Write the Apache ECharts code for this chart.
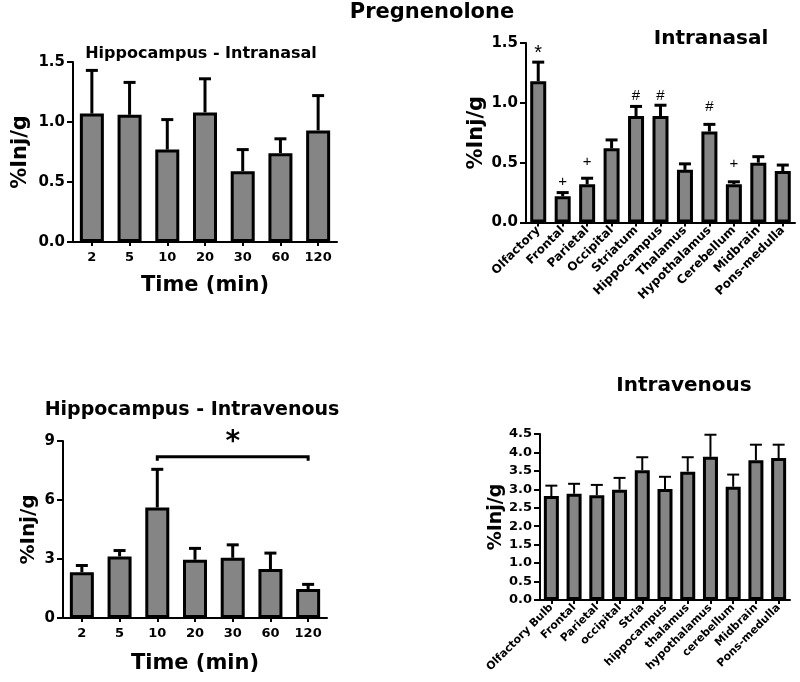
<!DOCTYPE html>
<html>
<head>
<meta charset="utf-8">
<script src="https://cdn.jsdelivr.net/npm/echarts@6/dist/echarts.min.js"></script>
<style>html,body{margin:0;padding:0;background:#fff}#c{width:800px;height:682px}</style>
</head>
<body>
<div id="c"></div>
<script>
// ---- data ----
const mainTitle = 'Pregnenolone';
const timeCats = ['2', '5', '10', '20', '30', '60', '120'];

const inHippoTitle = 'Hippocampus - Intranasal';
const inHippoMean = [1.07, 1.06, 0.77, 1.08, 0.59, 0.74, 0.93];
const inHippoErr  = [1.43, 1.33, 1.02, 1.36, 0.77, 0.86, 1.22];

const inRegionTitle = 'Intranasal';
const inRegionCats = ['Olfactory', 'Frontal', 'Parietal', 'Occipital', 'Striatum', 'Hippocampus', 'Thalamus', 'Hypothalamus', 'Cerebellum', 'Midbrain', 'Pons-medulla'];
const inRegionMean = [1.18, 0.22, 0.32, 0.62, 0.89, 0.89, 0.44, 0.76, 0.32, 0.50, 0.43];
const inRegionErr  = [1.34, 0.25, 0.37, 0.69, 0.97, 0.98, 0.49, 0.82, 0.34, 0.55, 0.48];
const inRegionMarks = ['*', '+', '+', '', '#', '#', '', '#', '+', '', ''];
const inRegionMarkY = [1.41, 0.34, 0.51, null, 1.06, 1.06, null, 0.97, 0.49, null, null];

const ivHippoTitle = 'Hippocampus - Intravenous';
const ivHippoMean = [2.33, 3.13, 5.62, 2.96, 3.06, 2.49, 1.47];
const ivHippoErr  = [2.67, 3.43, 7.56, 3.54, 3.72, 3.30, 1.71];
const ivBracket = { from: 2, to: 6, y: 8.2, tickTo: 8.0, label: '*', labelY: 8.9 };

const ivRegionTitle = 'Intravenous';
const ivRegionCats = ['Olfactory Bulb', 'Frontal', 'Parietal', 'occipital', 'Stria', 'hippocampus', 'thalamus', 'hypothalamus', 'cerebellum', 'Midbrain', 'Pons-medulla'];
const ivRegionMean = [2.82, 2.88, 2.84, 2.99, 3.52, 3.01, 3.48, 3.88, 3.07, 3.79, 3.85];
const ivRegionErr  = [3.10, 3.15, 3.12, 3.31, 3.87, 3.34, 3.87, 4.48, 3.40, 4.21, 4.21];

const yName = '%Inj/g';
const xTimeName = 'Time (min)';

// ---- chart ----
const FONT = 'DejaVu Sans';
const chart = echarts.init(document.getElementById('c'), null, { renderer: 'canvas' });

function errRender(capHalf, lw) {
  return function (params, api) {
    const x = api.value(0), v = api.value(1), e = api.value(2);
    const p0 = api.coord([x, v]);
    const p1 = api.coord([x, e]);
    return {
      type: 'group',
      children: [
        { type: 'line', shape: { x1: p0[0], y1: p0[1], x2: p1[0], y2: p1[1] }, style: { stroke: '#000', lineWidth: lw } },
        { type: 'line', shape: { x1: p1[0] - capHalf, y1: p1[1], x2: p1[0] + capHalf, y2: p1[1] }, style: { stroke: '#000', lineWidth: lw } }
      ]
    };
  };
}
function errData(mean, err) { return mean.map((m, i) => [i, m, err[i]]); }

function yAxisCfg(gi, max, interval, dec, labelSize, nameSize, nameGap) {
  return {
    gridIndex: gi, type: 'value', min: 0, max: max, interval: interval,
    name: yName, nameLocation: 'middle', nameGap: nameGap, nameRotate: 90,
    nameTextStyle: { fontFamily: FONT, fontWeight: 'bold', fontSize: nameSize, color: '#000' },
    axisLine: { show: true, lineStyle: { color: '#000', width: 2 } },
    axisTick: { show: true, length: 6, lineStyle: { color: '#000', width: 2 } },
    axisLabel: { fontFamily: FONT, fontWeight: 'bold', fontSize: labelSize, color: '#000', margin: 8,
      formatter: v => v.toFixed(dec) },
    splitLine: { show: false }
  };
}
function xAxisCfg(gi, cats, opts) {
  return Object.assign({
    gridIndex: gi, type: 'category', data: cats,
    axisLine: { show: true, lineStyle: { color: '#000', width: 2 } },
    axisTick: { show: true, alignWithLabel: true, length: 4, lineStyle: { color: '#000', width: 2 } },
    axisLabel: { fontFamily: FONT, fontWeight: 'bold', fontSize: 13, color: '#000', margin: 9, interval: 0 },
    splitLine: { show: false }
  }, opts || {});
}
function barSeries(gi, data, w) {
  return {
    type: 'bar', xAxisIndex: gi, yAxisIndex: gi, data: data, barWidth: w,
    itemStyle: { color: '#858585', borderColor: '#000', borderWidth: 3 },
    silent: true, z: 2
  };
}
function errSeries(gi, mean, err, capHalf, lw) {
  return {
    type: 'custom', xAxisIndex: gi, yAxisIndex: gi, data: errData(mean, err),
    renderItem: errRender(capHalf, lw), silent: true, z: 3
  };
}

const markData = inRegionMarks.map((m, i) => [i, inRegionMarkY[i], m]).filter(d => d[2] !== '');

const option = {
  animation: false,
  backgroundColor: '#fff',
  graphic: [
    { type: 'text', x: 432, y: 13, style: { text: mainTitle, fontFamily: FONT, fontWeight: 'bold', fontSize: 21, fill: '#000', textAlign: 'center', textVerticalAlign: 'middle' } },
    { type: 'text', x: 201, y: 54, style: { text: inHippoTitle, fontFamily: FONT, fontWeight: 'bold', fontSize: 16, fill: '#000', textAlign: 'center', textVerticalAlign: 'middle' } },
    { type: 'text', x: 711, y: 39, style: { text: inRegionTitle, fontFamily: FONT, fontWeight: 'bold', fontSize: 20, fill: '#000', textAlign: 'center', textVerticalAlign: 'middle' } },
    { type: 'text', x: 192, y: 410, style: { text: ivHippoTitle, fontFamily: FONT, fontWeight: 'bold', fontSize: 19, fill: '#000', textAlign: 'center', textVerticalAlign: 'middle' } },
    { type: 'text', x: 684, y: 386, style: { text: ivRegionTitle, fontFamily: FONT, fontWeight: 'bold', fontSize: 20, fill: '#000', textAlign: 'center', textVerticalAlign: 'middle' } }
  ],
  grid: [
    { left: 73, top: 62, width: 264, height: 180 },
    { left: 526, top: 43, width: 269, height: 179.5 },
    { left: 63, top: 441, width: 264, height: 177 },
    { left: 540, top: 434, width: 250, height: 166 }
  ],
  xAxis: [
    xAxisCfg(0, timeCats, { name: xTimeName, nameLocation: 'middle', nameGap: 33,
      nameTextStyle: { fontFamily: FONT, fontWeight: 'bold', fontSize: 21, color: '#000' } }),
    xAxisCfg(1, inRegionCats, { axisLabel: { fontFamily: FONT, fontWeight: 'bold', fontSize: 12, color: '#000', rotate: 45, margin: 6, interval: 0 } }),
    xAxisCfg(2, timeCats, { name: xTimeName, nameLocation: 'middle', nameGap: 35,
      nameTextStyle: { fontFamily: FONT, fontWeight: 'bold', fontSize: 21, color: '#000' } }),
    xAxisCfg(3, ivRegionCats, { axisLabel: { fontFamily: FONT, fontWeight: 'bold', fontSize: 11, color: '#000', rotate: 45, margin: 6, interval: 0 } })
  ],
  yAxis: [
    yAxisCfg(0, 1.5, 0.5, 1, 15, 21, 42),
    yAxisCfg(1, 1.5, 0.5, 1, 15, 21, 36),
    yAxisCfg(2, 9, 3, 0, 15, 20, 24),
    yAxisCfg(3, 4.5, 0.5, 1, 13, 19, 32)
  ],
  series: [
    barSeries(0, inHippoMean, 24),
    errSeries(0, inHippoMean, inHippoErr, 6, 3),
    barSeries(1, inRegionMean, 16),
    errSeries(1, inRegionMean, inRegionErr, 6, 3),
    {
      type: 'custom', xAxisIndex: 1, yAxisIndex: 1, data: markData, silent: true, z: 4,
      renderItem: function (params, api) {
        const p = api.coord([api.value(0), api.value(1)]);
        const t = markData[params.dataIndex][2];
        return { type: 'text', style: { text: t, x: p[0], y: p[1], textAlign: 'center', textVerticalAlign: 'middle',
          fontFamily: 'Liberation Sans', fontSize: t === '*' ? 20 : 15, fill: '#000' } };
      }
    },
    barSeries(2, ivHippoMean, 24),
    errSeries(2, ivHippoMean, ivHippoErr, 6, 3),
    {
      type: 'custom', xAxisIndex: 2, yAxisIndex: 2, data: [[ivBracket.from, ivBracket.to, ivBracket.y, ivBracket.tickTo, ivBracket.labelY]],
      silent: true, z: 4,
      renderItem: function (params, api) {
        const a = api.coord([api.value(0), api.value(2)]);
        const b = api.coord([api.value(1), api.value(2)]);
        const a2 = api.coord([api.value(0), api.value(3)]);
        const b2 = api.coord([api.value(1), api.value(3)]);
        const l = api.coord([(api.value(0) + api.value(1)) / 2, api.value(4)]);
        return { type: 'group', children: [
          { type: 'polyline', shape: { points: [[a2[0], a2[1]], [a[0], a[1]], [b[0], b[1]], [b2[0], b2[1]]] },
            style: { stroke: '#000', lineWidth: 3, fill: null } },
          { type: 'text', style: { text: ivBracket.label, x: l[0], y: l[1], textAlign: 'center', textVerticalAlign: 'middle',
            fontFamily: FONT, fontWeight: 'bold', fontSize: 28, fill: '#000' } }
        ] };
      }
    },
    barSeries(3, ivRegionMean, 15),
    errSeries(3, ivRegionMean, ivRegionErr, 6, 2)
  ]
};

chart.setOption(option);
</script>
</body>
</html>
